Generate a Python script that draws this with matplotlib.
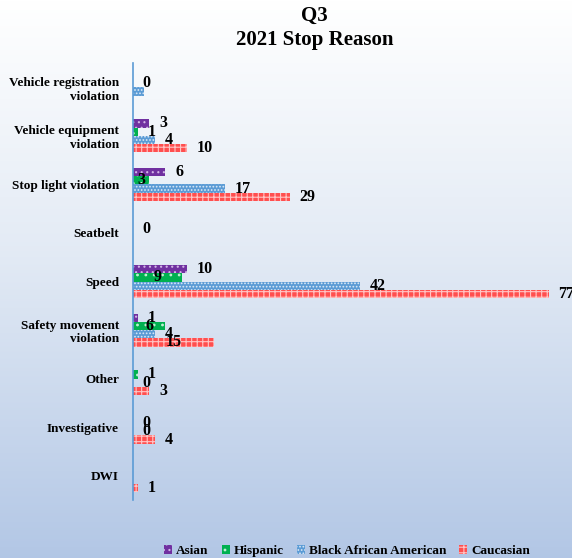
import numpy as np
import matplotlib.pyplot as plt
from matplotlib.patches import Patch

nan = np.nan
reasons = ['Vehicle registration\nviolation', 'Vehicle equipment\nviolation',
           'Stop light violation', 'Seatbelt', 'Speed',
           'Safety movement\nviolation', 'Other', 'Investigative', 'DWI']
asian = [nan, 3, 6, nan, 10, 1, nan, nan, nan]
hispanic = [0, 1, 3, 0, 9, 6, 1, 0, nan]
black = [2, 4, 17, nan, 42, 4, 0, 0, nan]
caucasian = [nan, 10, 29, nan, 77, 15, 3, 4, 1]
groups = ['Asian', 'Hispanic', 'Black African American', 'Caucasian']
colors = ['#7030A0', '#00B050', '#5B9BD5', '#FF4F4F']
dot_colors = ['#D2B4E6', '#C2F2D4', '#DCEAF7', '#FFC4C4']
hatches = ['...', '..', '.....', '+++']
# data labels left off in the sheet, and labels sitting inside their bar
no_label = {('Black African American', 0)}
inside = {('Hispanic', 2), ('Hispanic', 4), ('Hispanic', 5), ('Caucasian', 5)}

plt.rcParams['font.family'] = ['Liberation Serif', 'DejaVu Serif']
plt.rcParams['font.weight'] = 'bold'
plt.rcParams['hatch.linewidth'] = 0.8

fig = plt.figure(figsize=(5.72, 5.58), dpi=100)

# white-to-blue backdrop
bg = fig.add_axes([0, 0, 1, 1], zorder=-10)
g = np.linspace(0, 1, 256).reshape(-1, 1, 1)
top = np.array([1.0, 1.0, 1.0])
mid = np.array([0.89, 0.92, 0.96])
bot = np.array([0.70, 0.78, 0.90])
rgb = np.where(g < 0.45, top + (mid - top) * (g / 0.45),
               mid + (bot - mid) * ((g - 0.45) / 0.55))
bg.imshow(rgb, aspect='auto', extent=[0, 1, 0, 1])
bg.axis('off')

ax = fig.add_axes([0.2325, 0.104, 0.755, 0.783])
ax.patch.set_alpha(0)

y = np.arange(len(reasons))
h = 0.17
series = [asian, hispanic, black, caucasian]
handles = []
for i, (name, vals) in enumerate(zip(groups, series)):
    vals = np.array(vals, dtype=float)
    pos = y + (i - 1.5) * h
    bars = ax.barh(pos, np.nan_to_num(vals), height=h, color=colors[i],
                   edgecolor=dot_colors[i], linewidth=0, hatch=hatches[i])
    for j, (b, v) in enumerate(zip(bars, vals)):
        if np.isnan(v):
            b.set_visible(False)
            continue
        if (name, j) in no_label:
            continue
        if (name, j) in inside:
            ax.text(v / 2, pos[j], f'{v:g}', ha='center', va='center',
                    fontsize=11.5, fontweight='bold')
        else:
            ax.annotate(f'{v:g}', (v, pos[j]), xytext=(7, 0),
                        textcoords='offset points', ha='left', va='center',
                        fontsize=11.5, fontweight='bold', annotation_clip=False)
    handles.append(Patch(facecolor=colors[i], edgecolor=dot_colors[i],
                         linewidth=0, hatch=hatches[i], label=name))

ax.set_ylim(len(reasons) - 0.5, -0.5)
ax.set_xlim(0, 80)
ax.set_yticks(y)
ax.set_yticklabels(reasons, fontsize=9.5, fontweight='bold')
ax.tick_params(axis='y', length=0, pad=10)
ax.set_xticks([])
for s in ['top', 'right', 'bottom']:
    ax.spines[s].set_visible(False)
ax.spines['left'].set_color('#5B9BD5')
ax.spines['left'].set_linewidth(1.2)

fig.text(0.55, 0.95, 'Q3\n2021 Stop Reason', ha='center', va='center',
         fontsize=15, fontweight='bold', linespacing=1.25)

fig.legend(handles=handles, loc='center', bbox_to_anchor=(0.607, 0.012),
           ncol=4, frameon=False, fontsize=9.5, handlelength=0.6,
           handleheight=0.6, handletextpad=0.3, columnspacing=1.0)

fig.savefig('out.png', dpi=100)
